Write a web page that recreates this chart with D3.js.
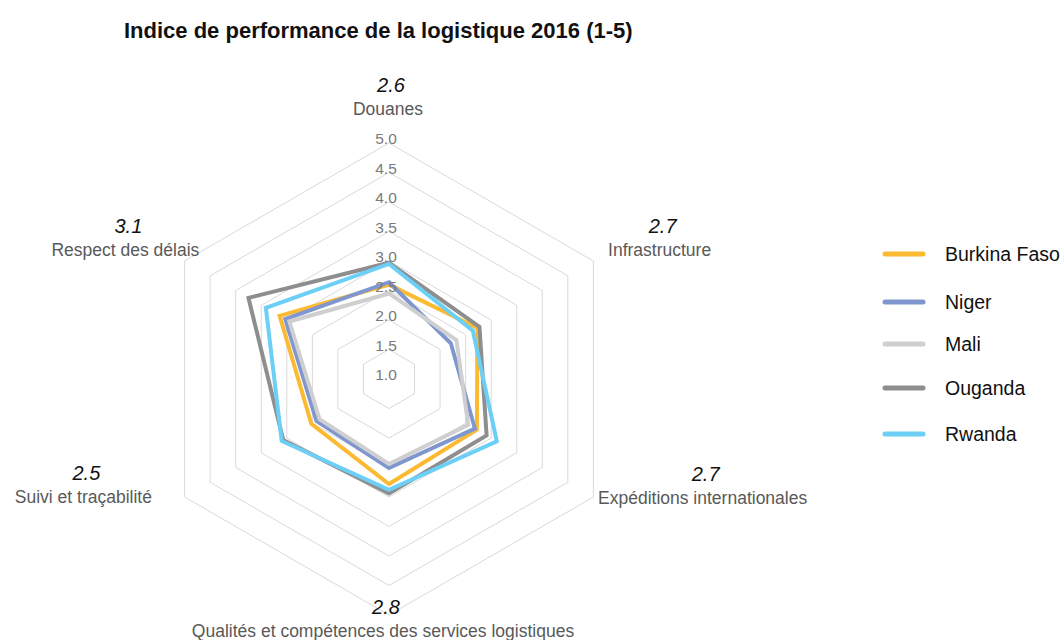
<!DOCTYPE html>
<html>
<head>
<meta charset="utf-8">
<script src="https://cdn.jsdelivr.net/npm/d3@7"></script>
<style>
  html, body { margin: 0; padding: 0; background: #ffffff; }
  svg { display: block; }
  text { font-family: "Liberation Sans", Arial, sans-serif; }
</style>
</head>
<body>
<svg id="chart" width="1064" height="640"></svg>
<script>
// ---- data ----
const axes = ["Douanes", "Infrastructure", "Expéditions internationales",
              "Qualités et compétences des services logistiques",
              "Suivi et traçabilité", "Respect des délais"];
const axisValueLabels = ["2.6", "2.7", "2.7", "2.8", "2.5", "3.1"];
const seriesNames = ["Burkina Faso", "Niger", "Mali", "Ouganda", "Rwanda"];
const burkinaFaso = [2.60, 2.73, 2.72, 2.78, 2.52, 3.14];
const niger       = [2.64, 2.21, 2.68, 2.51, 2.42, 3.03];
const mali        = [2.45, 2.32, 2.55, 2.44, 2.36, 2.95];
const ouganda     = [2.97, 2.77, 2.91, 2.94, 3.07, 3.75];
const rwanda      = [2.95, 2.64, 3.11, 2.88, 3.10, 3.41];
const tickLabels  = ["1.0", "1.5", "2.0", "2.5", "3.0", "3.5", "4.0", "4.5", "5.0"];
const title = "Indice de performance de la logistique 2016 (1-5)";

// ---- layout / style ----
const seriesValues = [burkinaFaso, niger, mali, ouganda, rwanda];
const colors = ["#FBBA32", "#7F96CF", "#CFCFCF", "#8E8E8E", "#6CCFF6"];
const cx = 389, cy = 379, R = 236;
const labelNudge = [[-1, -6], [42, 3], [85, -13], [-6, -12], [-77, -14], [-35, 3]];
const legendY = [254, 302, 344, 388, 434];

const svg = d3.select("#chart");
const ticks = tickLabels.map(Number);
const r = d3.scaleLinear().domain([d3.min(ticks), d3.max(ticks)]).range([0, R]);
const angle = i => i * 2 * Math.PI / axes.length;

const g = svg.append("g").attr("transform", `translate(${cx},${cy})`);

// grid rings
const ringLine = d3.lineRadial()
  .angle((d, i) => angle(i))
  .radius(d => r(d))
  .curve(d3.curveLinearClosed);
g.selectAll("path.ring")
  .data(ticks.filter(t => t > r.domain()[0]))
  .join("path")
  .attr("class", "ring")
  .attr("d", t => ringLine(axes.map(() => t)))
  .attr("fill", "none")
  .attr("stroke", "#D9D9D9")
  .attr("stroke-width", 1);

// series
g.selectAll("path.series")
  .data(seriesValues)
  .join("path")
  .attr("class", "series")
  .attr("d", d => ringLine(d))
  .attr("fill", "none")
  .attr("stroke", (d, i) => colors[i])
  .attr("stroke-width", 4)
  .attr("stroke-linejoin", "miter");

// tick labels
g.selectAll("text.tick")
  .data(ticks)
  .join("text")
  .attr("class", "tick")
  .attr("x", -3)
  .attr("y", t => -r(t) - 4)
  .attr("dy", "0.35em")
  .attr("text-anchor", "middle")
  .attr("font-size", 15.5)
  .attr("fill", "#7A7A7A")
  .text((t, i) => tickLabels[i]);

// axis labels
const pad = R + 28;
axes.forEach((name, i) => {
  const a = angle(i);
  const x = pad * Math.sin(a) + labelNudge[i][0];
  const y = -pad * Math.cos(a) + labelNudge[i][1];
  g.append("text")
    .attr("x", x).attr("y", y).attr("dy", "0.35em")
    .attr("text-anchor", "middle")
    .attr("font-size", 17.5)
    .attr("fill", "#595959")
    .text(name);
  g.append("text")
    .attr("x", x + 3).attr("y", y - 24).attr("dy", "0.35em")
    .attr("text-anchor", "middle")
    .attr("font-size", 20)
    .attr("font-style", "italic")
    .attr("fill", "#111111")
    .text(axisValueLabels[i]);
});

// title
svg.append("text")
  .attr("x", 124).attr("y", 38)
  .attr("font-size", 22)
  .attr("font-weight", "bold")
  .attr("fill", "#111111")
  .text(title);

// legend
const leg = svg.append("g");
seriesNames.forEach((name, i) => {
  leg.append("line")
    .attr("x1", 885).attr("x2", 923)
    .attr("y1", legendY[i]).attr("y2", legendY[i])
    .attr("stroke", colors[i]).attr("stroke-width", 5)
    .attr("stroke-linecap", "round");
  leg.append("text")
    .attr("x", 945).attr("y", legendY[i]).attr("dy", "0.35em")
    .attr("font-size", 19.5)
    .attr("fill", "#111111")
    .text(name);
});
</script>
</body>
</html>
